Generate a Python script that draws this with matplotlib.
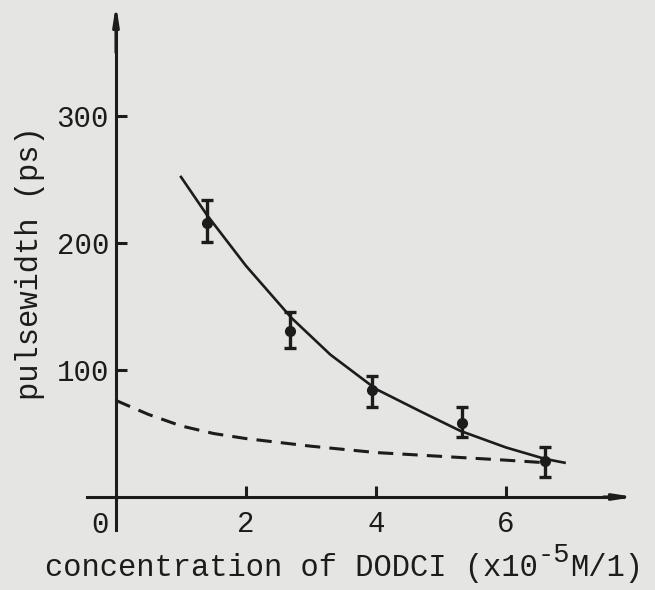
import matplotlib
matplotlib.use("Agg")
import matplotlib.pyplot as plt

# measured points with error bars
conc = [1.40, 2.68, 3.94, 5.32, 6.60]
width = [216, 131, 84, 58, 28]
err_lo = [15, 14, 13, 11, 12]
err_hi = [18, 15, 11, 13, 11]

# fitted solid curve
fit_x = [1.0, 1.4, 2.0, 2.7, 3.3, 4.0, 4.7, 5.3, 6.0, 6.6, 6.9]
fit_y = [252, 222, 182, 141, 112, 85, 67, 52, 39, 30, 27]

# dashed curve
dash_x = [0.0, 0.5, 1.0, 1.5, 2.0, 3.0, 4.0, 5.0, 6.0, 6.6]
dash_y = [76, 65, 56, 50, 46, 40, 35, 32, 29, 27]

xticks = [2, 4, 6]
yticks = [100, 200, 300]

paper = "#e5e5e3"
ink = "#1c1c1c"
font = "Liberation Mono"

plt.rcParams["font.family"] = [font, "DejaVu Sans Mono"]

fig = plt.figure(figsize=(6.55, 5.9), dpi=100, facecolor=paper)
ax = fig.add_axes([0, 0, 1, 1], facecolor=paper)

# pixel mapping: x0 at 116 px, 65 px/unit; y0 at 497 px, 1.27 px/ps
ax.set_xlim(-116 / 65, (655 - 116) / 65)
ax.set_ylim((497 - 590) / 1.27, 497 / 1.27)

for side in ("top", "right"):
    ax.spines[side].set_visible(False)
ax.spines["left"].set_position(("data", 0))
ax.spines["bottom"].set_position(("data", 0))
ax.spines["left"].set_bounds(-26, 370)
ax.spines["bottom"].set_bounds(-0.45, 7.8)
for side in ("left", "bottom"):
    ax.spines[side].set_linewidth(2.2)
    ax.spines[side].set_color(ink)

# arrow heads
arrow = dict(arrowstyle="-|>,head_length=1.1,head_width=0.17", color=ink, lw=2.2,
             shrinkA=0, shrinkB=0)
ax.annotate("", xy=(0, 388), xytext=(0, 350), arrowprops=arrow)
ax.annotate("", xy=(7.98, 0), xytext=(7.5, 0), arrowprops=arrow)

ax.set_xticks(xticks)
ax.set_yticks(yticks)
ax.tick_params(axis="both", direction="in", length=8, width=2.2, color=ink,
               labelsize=21, labelcolor=ink)
ax.tick_params(axis="x", pad=9)
ax.tick_params(axis="y", pad=5)
ax.text(-0.25, -22, "0", fontsize=21, color=ink, ha="center", va="center")

ax.plot(dash_x, dash_y, color=ink, lw=2.2, ls=(0, (5, 3)))
ax.plot(fit_x, fit_y, color=ink, lw=1.9)
ax.errorbar(conc, width, yerr=[err_lo, err_hi], fmt="o", color=ink, ms=7,
            elinewidth=2.4, capsize=4, capthick=2.4)

fig.text(30 / 655, 1 - 263 / 590, "pulsewidth (ps)", rotation=90, fontsize=22,
         color=ink, ha="center", va="center")

# x label in three pieces so the exponent stays large like the typed original
W, H = 655, 590
base = 1 - 576 / H
fig.canvas.draw()
renderer = fig.canvas.get_renderer()
t1 = fig.text(45 / W, base, "concentration of DODCI (x10", fontsize=22, color=ink,
              ha="left", va="baseline")
x1 = t1.get_window_extent(renderer).x1
t2 = fig.text(x1 / W, base + 14 / H, "-5", fontsize=19.5, color=ink,
              ha="left", va="baseline")
x2 = t2.get_window_extent(renderer).x1
fig.text(x2 / W, base, "M/1)", fontsize=22, color=ink, ha="left", va="baseline")

fig.savefig("out.png", dpi=100, facecolor=paper)
